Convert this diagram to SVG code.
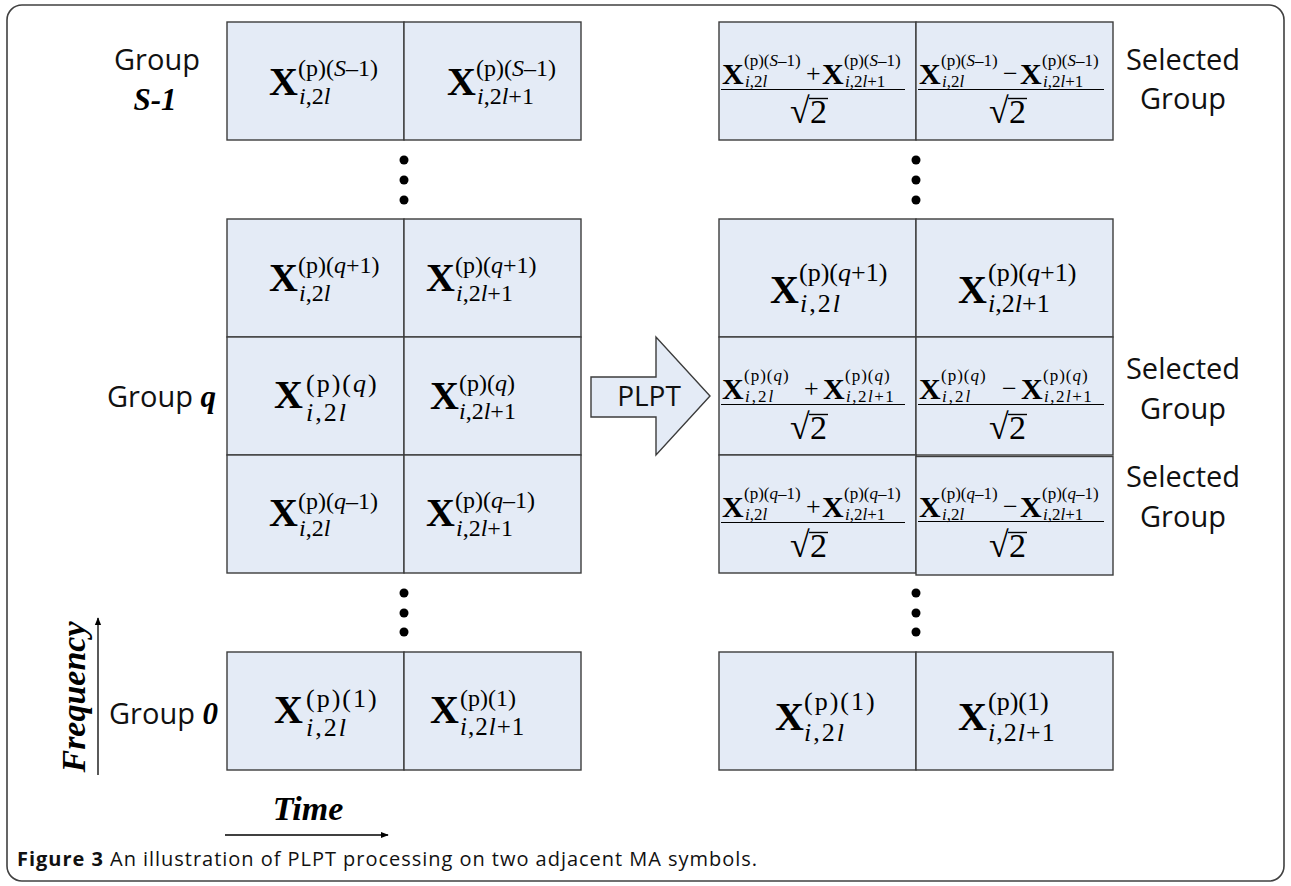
<svg xmlns="http://www.w3.org/2000/svg" width="1291" height="886" viewBox="0 0 1291 886">
<style>
.frame{fill:#fff;stroke:#404040;stroke-width:1.6}
.cell{fill:#E4EBF6;stroke:#3C3C3C;stroke-width:1.4}
.X{font-family:"Liberation Serif",serif;font-weight:bold;fill:#000}
.m{font-family:"Liberation Serif",serif;fill:#000}
.i{font-style:italic}
.lbl{font-family:"Open Sans",sans-serif;font-size:29px;fill:#111}
.sel{font-family:"Open Sans",sans-serif;font-size:29px;fill:#111;text-anchor:middle}
.bi{font-family:"Liberation Serif",serif;font-weight:bold;font-style:italic;fill:#000}
.dot{fill:#000}
.ax{stroke:#000;stroke-width:1.3;fill:none}
.fl{stroke:#000;stroke-width:1.1}
.vin{stroke:#000;stroke-width:1.4}
.cap{font-family:"Open Sans",sans-serif;font-size:20px;fill:#111}
</style>
<defs>
<marker id="ah" viewBox="0 0 10 10" refX="9" refY="5" markerWidth="8" markerHeight="8" markerUnits="userSpaceOnUse" orient="auto"><path d="M0,1 L10,5 L0,9 Z" fill="#000"/></marker>
</defs>

<rect id="frame" class="frame" x="7" y="5" width="1277" height="876" rx="15" ry="15"/>

<!-- Left column -->
<g id="left-groupS1">
<rect class="cell" x="227" y="22" width="177" height="118"/>
<rect class="cell" x="404" y="22" width="177" height="118"/>
<text class="X" x="269" y="95" font-size="40">X</text>
<text class="m" x="298" y="76" font-size="24">(p)(<tspan class="i">S</tspan>–1)</text>
<text class="m" x="299" y="104" font-size="24"><tspan class="i">i</tspan>,2<tspan class="i">l</tspan></text>
<text class="X" x="447" y="95" font-size="40">X</text>
<text class="m" x="476" y="76" font-size="24">(p)(<tspan class="i">S</tspan>–1)</text>
<text class="m" x="477" y="104" font-size="24"><tspan class="i">i</tspan>,2<tspan class="i">l</tspan>+1</text>
</g>
<g id="left-groupQ1">
<rect class="cell" x="227" y="219" width="177" height="118"/>
<rect class="cell" x="404" y="219" width="177" height="118"/>
<text class="X" x="269" y="291" font-size="40">X</text>
<text class="m" x="298" y="273" font-size="24">(p)(<tspan class="i">q</tspan>+1)</text>
<text class="m" x="299" y="301" font-size="24"><tspan class="i">i</tspan>,2<tspan class="i">l</tspan></text>
<text class="X" x="426" y="291" font-size="40">X</text>
<text class="m" x="455" y="273" font-size="24">(p)(<tspan class="i">q</tspan>+1)</text>
<text class="m" x="456" y="301" font-size="24"><tspan class="i">i</tspan>,2<tspan class="i">l</tspan>+1</text>
</g>
<g id="left-groupQ">
<rect class="cell" x="227" y="337" width="177" height="118"/>
<rect class="cell" x="404" y="337" width="177" height="118"/>
<text class="X" x="274" y="408" font-size="40">X</text>
<text class="m" x="306" y="392" font-size="26" letter-spacing="2">(p)(<tspan class="i">q</tspan>)</text>
<text class="m" x="306" y="421" font-size="26" letter-spacing="2"><tspan class="i">i</tspan>,2<tspan class="i">l</tspan></text>
<text class="X" x="430" y="409" font-size="40">X</text>
<text class="m" x="459" y="391" font-size="24">(p)(<tspan class="i">q</tspan>)</text>
<text class="m" x="459" y="419" font-size="24"><tspan class="i">i</tspan>,2<tspan class="i">l</tspan>+1</text>
</g>
<g id="left-groupQm1">
<rect class="cell" x="227" y="455" width="177" height="118"/>
<rect class="cell" x="404" y="455" width="177" height="118"/>
<text class="X" x="269" y="526" font-size="40">X</text>
<text class="m" x="298" y="509" font-size="24">(p)(<tspan class="i">q</tspan>–1)</text>
<text class="m" x="299" y="536" font-size="24"><tspan class="i">i</tspan>,2<tspan class="i">l</tspan></text>
<text class="X" x="426" y="526" font-size="40">X</text>
<text class="m" x="455" y="508" font-size="24">(p)(<tspan class="i">q</tspan>–1)</text>
<text class="m" x="456" y="536" font-size="24"><tspan class="i">i</tspan>,2<tspan class="i">l</tspan>+1</text>
</g>
<g id="left-group0">
<rect class="cell" x="227" y="652" width="177" height="118"/>
<rect class="cell" x="404" y="652" width="177" height="118"/>
<text class="X" x="274" y="723" font-size="40">X</text>
<text class="m" x="306" y="707" font-size="26" letter-spacing="2">(p)(1)</text>
<text class="m" x="306" y="736" font-size="26" letter-spacing="2"><tspan class="i">i</tspan>,2<tspan class="i">l</tspan></text>
<text class="X" x="430" y="723" font-size="40">X</text>
<text class="m" x="460" y="706" font-size="24">(p)(1)</text>
<text class="m" x="460" y="735" font-size="25" letter-spacing="1"><tspan class="i">i</tspan>,2<tspan class="i">l</tspan>+1</text>
</g>

<!-- Right column -->
<g id="right-groupS1">
<rect class="cell" x="719" y="22" width="197" height="118"/>
<rect class="cell" x="916" y="22" width="197" height="118"/>
<text class="X" x="722" y="84" font-size="30">X</text>
<text class="m" x="744" y="66" font-size="17">(p)(<tspan class="i">S</tspan>–1)</text>
<text class="m" x="745" y="87" font-size="17"><tspan class="i">i</tspan>,2<tspan class="i">l</tspan></text>
<text class="m" x="806" y="82" font-size="26">+</text>
<text class="X" x="822" y="84" font-size="30">X</text>
<text class="m" x="844" y="66" font-size="17">(p)(<tspan class="i">S</tspan>–1)</text>
<text class="m" x="845" y="87" font-size="17"><tspan class="i">i</tspan>,2<tspan class="i">l</tspan>+1</text>
<line class="fl" x1="721" y1="89.5" x2="905" y2="89.5"/>
<text class="m" x="790" y="123" font-size="36">√</text><text class="m" x="810" y="123" font-size="34">2</text>
<line class="vin" x1="809" y1="98.5" x2="828" y2="98.5"/>
<text class="X" x="919" y="84" font-size="30">X</text>
<text class="m" x="941" y="66" font-size="17">(p)(<tspan class="i">S</tspan>–1)</text>
<text class="m" x="942" y="87" font-size="17"><tspan class="i">i</tspan>,2<tspan class="i">l</tspan></text>
<text class="m" x="1003" y="82" font-size="26">−</text>
<text class="X" x="1020" y="84" font-size="30">X</text>
<text class="m" x="1042" y="66" font-size="17">(p)(<tspan class="i">S</tspan>–1)</text>
<text class="m" x="1043" y="87" font-size="17"><tspan class="i">i</tspan>,2<tspan class="i">l</tspan>+1</text>
<line class="fl" x1="918" y1="89.5" x2="1104" y2="89.5"/>
<text class="m" x="989" y="123" font-size="36">√</text><text class="m" x="1009" y="123" font-size="34">2</text>
<line class="vin" x1="1008" y1="98.5" x2="1027" y2="98.5"/>
</g>
<g id="right-groupQ1">
<rect class="cell" x="719" y="219" width="197" height="118"/>
<rect class="cell" x="916" y="219" width="197" height="118"/>
<text class="X" x="770" y="303" font-size="40">X</text>
<text class="m" x="799" y="281" font-size="26">(p)(<tspan class="i">q</tspan>+1)</text>
<text class="m" x="800" y="312" font-size="26" letter-spacing="2"><tspan class="i">i</tspan>,2<tspan class="i">l</tspan></text>
<text class="X" x="958" y="303" font-size="40">X</text>
<text class="m" x="988" y="281" font-size="26">(p)(<tspan class="i">q</tspan>+1)</text>
<text class="m" x="988" y="312" font-size="26"><tspan class="i">i</tspan>,2<tspan class="i">l</tspan>+1</text>
</g>
<g id="right-groupQ">
<rect class="cell" x="719" y="337" width="197" height="118"/>
<rect class="cell" x="916" y="337" width="197" height="118"/>
<text class="X" x="722" y="399" font-size="30">X</text>
<text class="m" x="744" y="381" font-size="17" letter-spacing="1">(p)(<tspan class="i">q</tspan>)</text>
<text class="m" x="745" y="402" font-size="17" letter-spacing="2"><tspan class="i">i</tspan>,2<tspan class="i">l</tspan></text>
<text class="m" x="804" y="397" font-size="26">+</text>
<text class="X" x="823" y="399" font-size="30">X</text>
<text class="m" x="845" y="381" font-size="17" letter-spacing="1">(p)(<tspan class="i">q</tspan>)</text>
<text class="m" x="846" y="402" font-size="17" letter-spacing="1.5"><tspan class="i">i</tspan>,2<tspan class="i">l</tspan>+1</text>
<line class="fl" x1="721" y1="404.5" x2="905" y2="404.5"/>
<text class="m" x="790" y="439" font-size="36">√</text><text class="m" x="810" y="439" font-size="34">2</text>
<line class="vin" x1="809" y1="414.5" x2="828" y2="414.5"/>
<text class="X" x="919" y="399" font-size="30">X</text>
<text class="m" x="941" y="381" font-size="17" letter-spacing="1">(p)(<tspan class="i">q</tspan>)</text>
<text class="m" x="942" y="402" font-size="17" letter-spacing="2"><tspan class="i">i</tspan>,2<tspan class="i">l</tspan></text>
<text class="m" x="1002" y="397" font-size="26">−</text>
<text class="X" x="1021" y="399" font-size="30">X</text>
<text class="m" x="1043" y="381" font-size="17" letter-spacing="1">(p)(<tspan class="i">q</tspan>)</text>
<text class="m" x="1044" y="402" font-size="17" letter-spacing="1.5"><tspan class="i">i</tspan>,2<tspan class="i">l</tspan>+1</text>
<line class="fl" x1="918" y1="404.5" x2="1104" y2="404.5"/>
<text class="m" x="989" y="439" font-size="36">√</text><text class="m" x="1009" y="439" font-size="34">2</text>
<line class="vin" x1="1008" y1="414.5" x2="1027" y2="414.5"/>
</g>
<g id="right-groupQm1">
<rect class="cell" x="719" y="455" width="197" height="118"/>
<rect class="cell" x="916" y="456.5" width="197" height="118.5"/>
<text class="X" x="722" y="517" font-size="30">X</text>
<text class="m" x="744" y="499" font-size="17">(p)(<tspan class="i">q</tspan>–1)</text>
<text class="m" x="745" y="520" font-size="17"><tspan class="i">i</tspan>,2<tspan class="i">l</tspan></text>
<text class="m" x="806" y="515" font-size="26">+</text>
<text class="X" x="822" y="517" font-size="30">X</text>
<text class="m" x="844" y="499" font-size="17">(p)(<tspan class="i">q</tspan>–1)</text>
<text class="m" x="845" y="520" font-size="17"><tspan class="i">i</tspan>,2<tspan class="i">l</tspan>+1</text>
<line class="fl" x1="721" y1="522.5" x2="905" y2="522.5"/>
<text class="m" x="790" y="557" font-size="36">√</text><text class="m" x="810" y="557" font-size="34">2</text>
<line class="vin" x1="809" y1="532.5" x2="828" y2="532.5"/>
<text class="X" x="919" y="517" font-size="30">X</text>
<text class="m" x="941" y="499" font-size="17">(p)(<tspan class="i">q</tspan>–1)</text>
<text class="m" x="942" y="520" font-size="17"><tspan class="i">i</tspan>,2<tspan class="i">l</tspan></text>
<text class="m" x="1003" y="515" font-size="26">−</text>
<text class="X" x="1020" y="517" font-size="30">X</text>
<text class="m" x="1042" y="499" font-size="17">(p)(<tspan class="i">q</tspan>–1)</text>
<text class="m" x="1043" y="520" font-size="17"><tspan class="i">i</tspan>,2<tspan class="i">l</tspan>+1</text>
<line class="fl" x1="918" y1="521.5" x2="1104" y2="521.5"/>
<text class="m" x="989" y="557" font-size="36">√</text><text class="m" x="1009" y="557" font-size="34">2</text>
<line class="vin" x1="1008" y1="532.5" x2="1027" y2="532.5"/>
</g>
<g id="right-group0">
<rect class="cell" x="719" y="652" width="197" height="118"/>
<rect class="cell" x="916" y="652" width="197" height="118"/>
<text class="X" x="775" y="730" font-size="40">X</text>
<text class="m" x="804" y="710" font-size="26" letter-spacing="2">(p)(1)</text>
<text class="m" x="804" y="741" font-size="26" letter-spacing="2"><tspan class="i">i</tspan>,2<tspan class="i">l</tspan></text>
<text class="X" x="958" y="730" font-size="40">X</text>
<text class="m" x="988" y="710" font-size="26">(p)(1)</text>
<text class="m" x="988" y="741" font-size="26" letter-spacing="1"><tspan class="i">i</tspan>,2<tspan class="i">l</tspan>+1</text>
</g>

<!-- ellipsis dots -->
<g id="dots">
<circle class="dot" cx="404" cy="160" r="4.5"/><circle class="dot" cx="404" cy="180" r="4.5"/><circle class="dot" cx="404" cy="200" r="4.5"/>
<circle class="dot" cx="404" cy="593" r="4.5"/><circle class="dot" cx="404" cy="613" r="4.5"/><circle class="dot" cx="404" cy="632" r="4.5"/>
<circle class="dot" cx="916" cy="160" r="4.5"/><circle class="dot" cx="916" cy="180" r="4.5"/><circle class="dot" cx="916" cy="200" r="4.5"/>
<circle class="dot" cx="916" cy="593" r="4.5"/><circle class="dot" cx="916" cy="613" r="4.5"/><circle class="dot" cx="916" cy="632" r="4.5"/>
</g>

<!-- labels -->
<g id="label-groupS1">
<text class="lbl" x="157" y="70" text-anchor="middle">Group</text>
<text class="bi" x="155" y="110" font-size="31" text-anchor="middle">S-1</text>
</g>
<g id="label-groupQ">
<text class="lbl" x="107" y="407">Group <tspan class="bi" font-size="31">q</tspan></text>
</g>
<g id="label-group0">
<text class="lbl" x="109" y="724">Group <tspan class="bi" font-size="31">0</tspan></text>
</g>
<g id="label-selected1">
<text class="sel" x="1183" y="70">Selected</text>
<text class="sel" x="1183" y="109">Group</text>
</g>
<g id="label-selected2">
<text class="sel" x="1183" y="379">Selected</text>
<text class="sel" x="1183" y="419">Group</text>
</g>
<g id="label-selected3">
<text class="sel" x="1183" y="487">Selected</text>
<text class="sel" x="1183" y="527">Group</text>
</g>

<!-- PLPT block arrow -->
<g id="plpt">
<polygon class="cell" points="591,377 656,377 656,337 710,396 656,455 656,417 591,417"/>
<text class="lbl" x="649" y="406" text-anchor="middle" style="font-size:28px">PLPT</text>
</g>

<!-- axes -->
<g id="connectors">
<line class="ax" x1="98" y1="775" x2="98" y2="618" marker-end="url(#ah)"/>
<line class="ax" x1="225" y1="835" x2="388" y2="835" marker-end="url(#ah)"/>
</g>
<g id="axis-labels">
<text class="bi" x="0" y="0" font-size="34" text-anchor="middle" transform="translate(85,697) rotate(-90)">Frequency</text>
<text class="bi" x="308" y="820" font-size="34" text-anchor="middle">Time</text>
</g>

<text class="cap" x="17" y="866" textLength="740" lengthAdjust="spacing"><tspan font-weight="bold">Figure 3</tspan> An illustration of PLPT processing on two adjacent MA symbols.</text>
</svg>
